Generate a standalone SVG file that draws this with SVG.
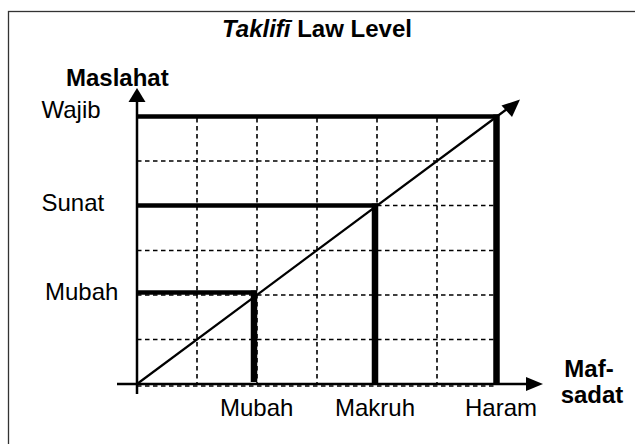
<svg xmlns="http://www.w3.org/2000/svg" width="635" height="444" viewBox="0 0 635 444">
<style>
  .lbl{font-family:"Liberation Sans",Arial,sans-serif;font-size:24px;fill:#000}
  .b{font-weight:bold}
  .grid{stroke:#000;stroke-width:1.6;stroke-dasharray:4.5 3.5;fill:none}
  .axis{stroke:#000;stroke-width:2.5;fill:none}
  .thickh{stroke:#000;stroke-width:4.5;fill:none}
  .thickv{stroke:#000;stroke-width:6.5;fill:none}
  .diag{stroke:#000;stroke-width:2.2;fill:none}
</style>
<rect x="0" y="0" width="635" height="444" fill="#fff"/>
<rect x="8.5" y="11.5" width="640" height="450" fill="none" stroke="#333" stroke-width="1.3"/>

<g id="title">
  <text class="lbl b" x="317" y="37" text-anchor="middle"><tspan font-style="italic">Taklifī</tspan> Law Level</text>
</g>

<g id="grid">
  <path class="grid" d="M197,118V384 M257,118V384 M317,118V384 M377,118V384 M437,118V384"/>
  <path class="grid" d="M137,161H497 M137,250.5H497 M137,295H497 M137,339.5H497 M137,205.5H497 M137,386H497"/>
</g>

<g id="connectors">
  <path class="axis" d="M137,394V100"/>
  <polygon points="137,88 128.5,102 145.5,102" fill="#000"/>
  <path class="axis" d="M117,384H528"/>
  <polygon points="543,384 526,377 526,391" fill="#000"/>
  <path class="diag" d="M137,384L509,107.5"/>
  <polygon points="520,99.5 501.5,105.5 512,117" fill="#000"/>
</g>

<g id="wajib">
  <path class="thickh" d="M137,116.5H499"/>
  <path class="thickv" d="M496.5,114.5V384"/>
  <text class="lbl" x="41.5" y="118">Wajib</text>
</g>
<g id="sunat">
  <path class="thickh" d="M137,205.5H378"/>
  <path class="thickv" d="M375,203.5V384"/>
  <text class="lbl" x="41.5" y="211">Sunat</text>
</g>
<g id="mubah">
  <path class="thickh" d="M137,292.5H257"/>
  <path class="thickv" d="M254,290.5V382"/>
  <text class="lbl" x="45" y="300">Mubah</text>
</g>

<g id="y-label">
  <text class="lbl b" x="66" y="86">Maslahat</text>
</g>
<g id="x-labels">
  <text class="lbl" x="220" y="416">Mubah</text>
  <text class="lbl" x="335" y="416">Makruh</text>
  <text class="lbl" x="537" y="416" text-anchor="end">Haram</text>
</g>
<g id="x-axis-label">
  <text class="lbl b" x="589" y="377" text-anchor="middle">Maf-</text>
  <text class="lbl b" x="592" y="403" text-anchor="middle">sadat</text>
</g>
</svg>
